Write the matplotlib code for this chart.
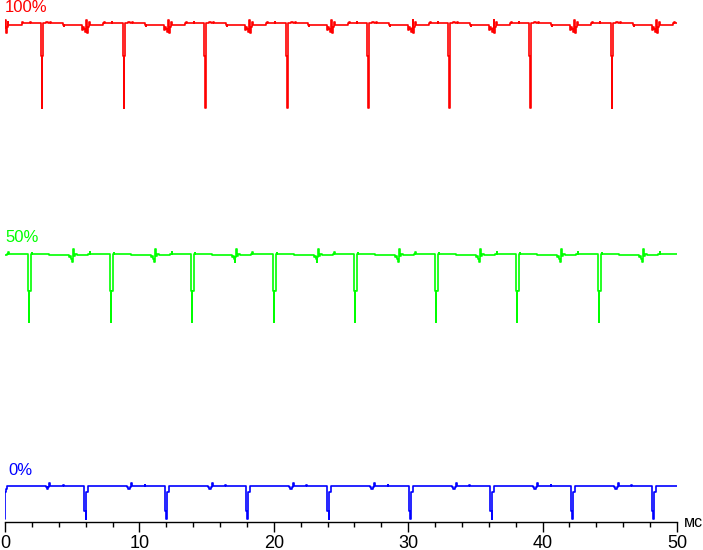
import numpy as np
import matplotlib
matplotlib.use("Agg")
import matplotlib.pyplot as plt
from matplotlib.ticker import MultipleLocator

# ---------------- data ----------------
# times (ms) of the dark dips of each trace (first entry = dip whose tail is at the left edge)
red_dips = [-3.31, 2.75, 8.85, 14.88, 20.98, 27.01, 33.04, 39.06, 45.16]
green_dips = [-4.27, 1.79, 7.89, 13.91, 20.01, 26.04, 32.07, 38.10, 44.20]
blue_dips = [-0.02, 6.03, 12.05, 18.08, 24.11, 30.21, 36.24, 42.26, 48.29]

# shape of one cycle: (time after dip in ms, level relative to baseline), held until next point
red_shape_t = [-0.075, -0.02, 0.04, 0.10, 0.30, 0.45, 0.60, 0.70, 1.56, 1.62, 1.66,
               2.98, 3.05, 3.12, 3.20, 3.26, 3.31, 3.38, 3.45, 3.52, 3.57, 4.55, 4.60, 4.66, 5.20, 5.24]
red_shape_v = [-33, -85, -33, 0, 1, 0, 1, 0, -2, -3, -2,
               -7, -4, -6, -9, -5, 3, -10, -4, 1, -2, 0, 1, 0, 1, 0]

green_shape_t = [-0.10, -0.03, 0.03, 0.12, 0.20, 0.25, 1.50, 2.95, 3.02, 3.10, 3.18,
                 3.24, 3.30, 3.36, 3.45, 3.60, 4.40, 4.50, 4.56]
green_shape_v = [-37, -68, -37, 0, 1, 0, -1, -3, -2, -5, -8,
                 -3, 5, -2, 0, -1, 0, 1.5, 0]

blue_shape_t = [-0.15, -0.04, 0.03, 0.13, 0.17, 3.05, 3.15, 3.25, 3.32, 3.40, 4.35, 4.39]
blue_shape_v = [-25, -33, -6, -3, 0, -1, -3, -1, 3, 0, 1.5, 0]

# baseline / level of each trace (arbitrary brightness units)
red_base = 499.5
green_base = 268.5
blue_base = 36.0

x_ticks_major = [0, 10, 20, 30, 40, 50]
x_unit = "мс"
labels = ["100%", "50%", "0%"]

# ---------------- build traces ----------------
def build(dips, st, sv, base, t_end=50.0):
    t = [dips[0] - 1.0]
    v = [base]
    for d in dips:
        for dt, dv in zip(st, sv):
            t.append(d + dt)
            v.append(base + dv)
    t.append(t_end + 0.5)
    v.append(v[-1])
    return np.array(t), np.array(v)

W, H = 703, 550
fig = plt.figure(figsize=(W / 100, H / 100), dpi=100)
plt.rcParams['font.family'] = ['Liberation Sans', 'DejaVu Sans']
x0, x1 = 5, 677
y_axis = 522
ax = fig.add_axes([x0 / W, (H - y_axis) / H, (x1 - x0) / W, y_axis / H])
ax.set_xlim(0, 50)
ax.set_ylim(0, y_axis)

traces = [
    (red_dips, red_shape_t, red_shape_v, red_base, "#ff0000"),
    (green_dips, green_shape_t, green_shape_v, green_base, "#00ff00"),
    (blue_dips, blue_shape_t, blue_shape_v, blue_base, "#0000ff"),
]
for dips, st, sv, base, col in traces:
    t, v = build(dips, st, sv, base)
    ax.plot(t, v, drawstyle="steps-post", color=col, lw=1.2, antialiased=True)

for sp in ["top", "left", "right"]:
    ax.spines[sp].set_visible(False)
ax.spines["bottom"].set_linewidth(1.0)
ax.spines["bottom"].set_color("black")
ax.set_yticks([])
ax.set_xticks(x_ticks_major)
ax.xaxis.set_minor_locator(MultipleLocator(2))
ax.tick_params(axis="x", which="major", direction="out", length=7, width=1, pad=2,
               labelsize=13, colors="black")
ax.tick_params(axis="x", which="minor", direction="out", length=3.5, width=1)
ax.patch.set_visible(False)

fig.text(684 / W, (H - 527) / H, x_unit, fontsize=11.5, ha="left", va="baseline")
fig.text(5 / W, (H - 12) / H, labels[0], fontsize=12, color="#ff0000", ha="left", va="baseline")
fig.text(5 / W, (H - 242) / H, labels[1], fontsize=12, color="#00ff00", ha="left", va="baseline")
fig.text(8 / W, (H - 475) / H, labels[2], fontsize=12, color="#0000ff", ha="left", va="baseline")

fig.savefig("out.png", dpi=100)
